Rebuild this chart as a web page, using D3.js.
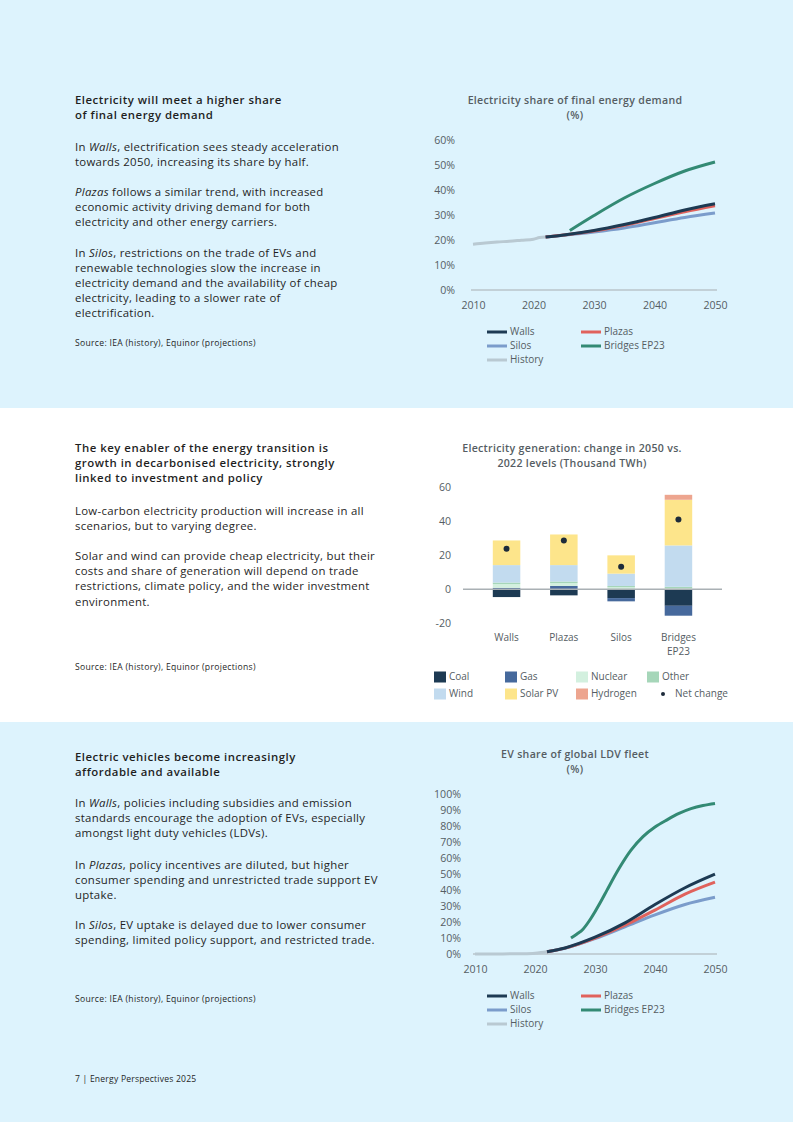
<!DOCTYPE html>
<html>
<head>
<meta charset="utf-8">
<script src="https://cdn.jsdelivr.net/npm/d3@7"></script>
<style>
  body { margin: 0; background: #fff; }
  svg { display: block; font-family: "Open Sans", Lato, sans-serif; }
</style>
</head>
<body>
<svg width="793" height="1122"></svg>
<script>
// ---- data: electricity share of final energy demand (%)
var elecHistYears = [2010, 2012, 2014, 2016, 2018, 2020, 2021, 2022];
var elecHist = [18.3, 18.8, 19.2, 19.5, 19.9, 20.3, 21.0, 21.2];
var elecYears = [2022, 2025, 2030, 2035, 2040, 2045, 2050];
var elecWalls = [21.2, 22.0, 23.8, 26.2, 29.0, 32.0, 34.5];
var elecPlazas = [21.2, 22.0, 23.6, 25.9, 28.6, 31.3, 33.7];
var elecSilos = [21.2, 21.9, 23.2, 24.8, 26.9, 29.0, 30.8];
var elecBridgesYears = [2026, 2030, 2035, 2040, 2045, 2050];
var elecBridges = [23.8, 29.8, 36.8, 42.6, 47.6, 51.2];
var elecTicks = [0, 10, 20, 30, 40, 50, 60];

// ---- data: electricity generation change 2050 vs 2022 (thousand TWh)
var genCats = ["Walls", "Plazas", "Silos", "Bridges EP23"];
var genKeys = ["Coal", "Gas", "Nuclear", "Other", "Wind", "Solar PV", "Hydrogen"];
var genCoal = [-4.6, -3.6, -5.2, -9.7];
var genGas = [0.8, 1.9, -1.9, -5.8];
var genNuclear = [2.2, 1.7, 1.2, 0.6];
var genOther = [0.9, 0.9, 0.7, 0.8];
var genWind = [10.2, 9.6, 7.2, 24.2];
var genSolar = [14.4, 17.9, 10.7, 26.7];
var genHydrogen = [0, 0, 0, 2.9];
var genNet = [23.6, 28.5, 13.2, 40.7];
var genTicks = [-20, 0, 20, 40, 60];

// ---- data: EV share of global LDV fleet (%)
var evHistYears = [2010, 2014, 2018, 2020, 2021, 2022];
var evHist = [0, 0.05, 0.2, 0.5, 0.9, 1.4];
var evYears = [2022, 2025, 2030, 2035, 2040, 2045, 2050];
var evWalls = [1.4, 3.8, 10.5, 19.5, 31.0, 41.5, 50.0];
var evPlazas = [1.4, 3.7, 10.0, 18.0, 27.5, 37.5, 45.0];
var evSilos = [1.4, 3.6, 9.6, 17.0, 24.5, 31.0, 35.5];
var evBridgesYears = [2026, 2027, 2028, 2029, 2030, 2031, 2032, 2034, 2036, 2038, 2040, 2042, 2044, 2046, 2048, 2050];
var evBridges = [10.0, 12.5, 15.5, 20.5, 26.5, 33.0, 40.0, 53.5, 65.0, 73.5, 79.5, 84.0, 88.0, 91.0, 93.0, 94.3];
var evTicks = [0, 10, 20, 30, 40, 50, 60, 70, 80, 90, 100];

var xTicks = [2010, 2020, 2030, 2040, 2050];

var colors = {
  Walls: "#1d3a53", Plazas: "#e0625c", Silos: "#7b9ccb", "Bridges EP23": "#338a74", History: "#b9c9d2",
  Coal: "#1d3a53", Gas: "#46699c", Nuclear: "#d3f0df", Other: "#a6d6b9", Wind: "#c2dbef",
  "Solar PV": "#fde58b", Hydrogen: "#eda58f"
};

var svg = d3.select("svg");
var bg = "#ddf3fd";
svg.append("rect").attr("x", 0).attr("y", 0).attr("width", 793).attr("height", 408).attr("fill", bg);
svg.append("rect").attr("x", 0).attr("y", 408).attr("width", 793).attr("height", 314).attr("fill", "#ffffff");
svg.append("rect").attr("x", 0).attr("y", 722).attr("width", 793).attr("height", 400).attr("fill", bg);

// ---- left column text
function textBlock(lines, y, opts) {
  lines.forEach(function (line, i) {
    var t = svg.append("text")
      .attr("x", 75)
      .attr("y", y + i * 15.2)
      .attr("dominant-baseline", "middle")
      .attr("font-size", opts.size)
      .attr("font-weight", opts.weight || "normal")
      .attr("letter-spacing", opts.spacing || 0)
      .attr("fill", "#1f1f1f");
    // segments starting with "_" are italic
    [].concat(line).forEach(function (seg) {
      var it = seg.charAt(0) === "_";
      t.append("tspan").attr("font-style", it ? "italic" : "normal").text(it ? seg.slice(1) : seg);
    });
  });
}
var body = { size: 11.4, spacing: 0.28 };
var head = { size: 11.4, weight: 600, spacing: 0.5 };
var src = { size: 8.6, spacing: 0.3 };

textBlock(["Electricity will meet a higher share", "of final energy demand"], 101, head);
textBlock([["In ", "_Walls", ", electrification sees steady acceleration"], "towards 2050, increasing its share by half."], 148, body);
textBlock([["_Plazas", " follows a similar trend, with increased"], "economic activity driving demand for both", "electricity and other energy carriers."], 193, body);
textBlock([["In ", "_Silos", ", restrictions on the trade of EVs and"], "renewable technologies slow the increase in", "electricity demand and the availability of cheap", "electricity, leading to a slower rate of", "electrification."], 253.5, body);
textBlock(["Source: IEA (history), Equinor (projections)"], 343.5, src);

textBlock(["The key enabler of the energy transition is", "growth in decarbonised electricity, strongly", "linked to investment and policy"], 448.5, head);
textBlock(["Low-carbon electricity production will increase in all", "scenarios, but to varying degree."], 511.5, body);
textBlock(["Solar and wind can provide cheap electricity, but their", "costs and share of generation will depend on trade", "restrictions, climate policy, and the wider investment", "environment."], 557, body);
textBlock(["Source: IEA (history), Equinor (projections)"], 668, src);

textBlock(["Electric vehicles become increasingly", "affordable and available"], 758, head);
textBlock([["In ", "_Walls", ", policies including subsidies and emission"], "standards encourage the adoption of EVs, especially", "amongst light duty vehicles (LDVs)."], 804, body);
textBlock([["In ", "_Plazas", ", policy incentives are diluted, but higher"], "consumer spending and unrestricted trade support EV", "uptake."], 866, body);
textBlock([["In ", "_Silos", ", EV uptake is delayed due to lower consumer"], "spending, limited policy support, and restricted trade."], 926, body);
textBlock(["Source: IEA (history), Equinor (projections)"], 1000, src);

textBlock(["7 | Energy Perspectives 2025"], 1080, { size: 8.6, spacing: 0.2 });

// ---- chart helpers
var axisColor = "#555d63";

function chartTitle(lines, cx, y) {
  lines.forEach(function (l, i) {
    svg.append("text")
      .attr("x", cx).attr("y", y + i * 15)
      .attr("text-anchor", "middle").attr("dominant-baseline", "middle")
      .attr("font-size", 10.6).attr("font-weight", 600).attr("letter-spacing", 0.3)
      .attr("fill", "#555d63")
      .text(l);
  });
}

function styleAxis(g) {
  g.select(".domain").remove();
  g.selectAll(".tick line").remove();
  g.selectAll(".tick text").attr("fill", axisColor).attr("font-size", 10.6)
    .attr("font-family", "'Open Sans', Lato, sans-serif");
}

function lineChart(cfg) {
  var x = d3.scaleLinear().domain([2010, 2050]).range(cfg.xRange);
  var y = d3.scaleLinear().domain([0, cfg.yMax]).range(cfg.yRange);

  svg.append("g")
    .attr("transform", "translate(" + cfg.yLabelX + ",0)")
    .call(d3.axisLeft(y).tickValues(cfg.yTicks).tickSize(0).tickPadding(0)
      .tickFormat(function (d) { return d + "%"; }))
    .call(styleAxis);

  svg.append("line")
    .attr("x1", cfg.xRange[0] - 2).attr("x2", cfg.xRange[1] + 2)
    .attr("y1", y(0)).attr("y2", y(0))
    .attr("stroke", "#a7adb1").attr("stroke-width", 1);

  svg.append("g")
    .attr("transform", "translate(0," + (y(0) + cfg.xLabelGap) + ")")
    .call(d3.axisBottom(x).tickValues(xTicks).tickSize(0).tickPadding(3).tickFormat(d3.format("d")))
    .call(styleAxis);

  var line = d3.line()
    .x(function (d) { return x(d[0]); })
    .y(function (d) { return y(d[1]); })
    .curve(d3.curveMonotoneX);

  cfg.series.forEach(function (s) {
    svg.append("path")
      .datum(d3.zip(s.years, s.values))
      .attr("fill", "none")
      .attr("stroke", colors[s.name])
      .attr("stroke-width", 3)
      .attr("d", line);
  });

  // legend
  var legend = [["Walls", 0, 0], ["Plazas", 94, 0], ["Silos", 0, 1], ["Bridges EP23", 94, 1], ["History", 0, 2]];
  legend.forEach(function (l) {
    var lx = cfg.legendX + l[1], ly = cfg.legendY + l[2] * 14;
    svg.append("line").attr("x1", lx).attr("x2", lx + 20).attr("y1", ly).attr("y2", ly)
      .attr("stroke", colors[l[0]]).attr("stroke-width", 3);
    svg.append("text").attr("x", lx + 23).attr("y", ly).attr("dominant-baseline", "middle")
      .attr("font-size", 10).attr("fill", axisColor).text(l[0]);
  });
}

// ---- chart 1
chartTitle(["Electricity share of final energy demand", "(%)"], 575, 101);
lineChart({
  xRange: [473, 715], yRange: [290, 140], yMax: 60, yTicks: elecTicks, yLabelX: 455,
  xLabelGap: 8, legendX: 487, legendY: 332,
  series: [
    { name: "History", years: elecHistYears, values: elecHist },
    { name: "Silos", years: elecYears, values: elecSilos },
    { name: "Plazas", years: elecYears, values: elecPlazas },
    { name: "Walls", years: elecYears, values: elecWalls },
    { name: "Bridges EP23", years: elecBridgesYears, values: elecBridges }
  ]
});

// ---- chart 3
chartTitle(["EV share of global LDV fleet", "(%)"], 575, 755);
lineChart({
  xRange: [475, 715], yRange: [954, 794.3], yMax: 100, yTicks: evTicks, yLabelX: 461,
  xLabelGap: 8, legendX: 487, legendY: 996,
  series: [
    { name: "History", years: evHistYears, values: evHist },
    { name: "Silos", years: evYears, values: evSilos },
    { name: "Plazas", years: evYears, values: evPlazas },
    { name: "Walls", years: evYears, values: evWalls },
    { name: "Bridges EP23", years: evBridgesYears, values: evBridges }
  ]
});

// ---- chart 2: stacked diverging bars
chartTitle(["Electricity generation: change in 2050 vs.", "2022 levels (Thousand TWh)"], 572, 449);

var genSeries = { Coal: genCoal, Gas: genGas, Nuclear: genNuclear, Other: genOther,
  Wind: genWind, "Solar PV": genSolar, Hydrogen: genHydrogen };
var genRows = genCats.map(function (c, i) {
  var row = { cat: c };
  genKeys.forEach(function (k) { row[k] = genSeries[k][i]; });
  return row;
});

var xBand = d3.scaleBand().domain(genCats).range([463, 722]).padding(0.52);
var yGen = d3.scaleLinear().domain([-20, 60]).range([623.4, 486.6]);

svg.append("g")
  .attr("transform", "translate(451,0)")
  .call(d3.axisLeft(yGen).tickValues(genTicks).tickSize(0).tickPadding(0)
    .tickFormat(function (d) { return String(d); }))
  .call(styleAxis);

var stacked = d3.stack().keys(genKeys).offset(d3.stackOffsetDiverging)(genRows);
svg.append("g").selectAll("g")
  .data(stacked)
  .enter().append("g")
  .attr("fill", function (d) { return colors[d.key]; })
  .selectAll("rect")
  .data(function (d) { return d; })
  .enter().append("rect")
  .attr("x", function (d) { return xBand(d.data.cat); })
  .attr("width", xBand.bandwidth())
  .attr("y", function (d) { return yGen(Math.max(d[0], d[1])); })
  .attr("height", function (d) { return Math.abs(yGen(d[0]) - yGen(d[1])); });

svg.append("line")
  .attr("x1", 463).attr("x2", 722).attr("y1", yGen(0)).attr("y2", yGen(0))
  .attr("stroke", "#a9b0b4").attr("stroke-width", 1.5);

svg.append("g").selectAll("circle")
  .data(genNet)
  .enter().append("circle")
  .attr("cx", function (d, i) { return xBand(genCats[i]) + xBand.bandwidth() / 2; })
  .attr("cy", function (d) { return yGen(d); })
  .attr("r", 3)
  .attr("fill", "#1d2b3a");

genCats.forEach(function (c) {
  var words = c === "Bridges EP23" ? ["Bridges", "EP23"] : [c];
  words.forEach(function (w, j) {
    svg.append("text")
      .attr("x", xBand(c) + xBand.bandwidth() / 2).attr("y", 638 + j * 14)
      .attr("text-anchor", "middle").attr("dominant-baseline", "middle")
      .attr("font-size", 10).attr("fill", axisColor).text(w);
  });
});

// legend chart 2
var genLegend = ["Coal", "Gas", "Nuclear", "Other", "Wind", "Solar PV", "Hydrogen", "Net change"];
genLegend.forEach(function (k, i) {
  var lx = 434 + (i % 4) * 71, ly = 677 + Math.floor(i / 4) * 17;
  if (k === "Net change") {
    svg.append("circle").attr("cx", lx + 16).attr("cy", ly).attr("r", 2).attr("fill", "#1d2b3a");
  } else {
    svg.append("rect").attr("x", lx).attr("y", ly - 5.5).attr("width", 12).attr("height", 11)
      .attr("fill", colors[k]);
  }
  svg.append("text").attr("x", k === "Net change" ? lx + 28 : lx + 15)
    .attr("y", ly).attr("dominant-baseline", "middle")
    .attr("font-size", 10).attr("fill", axisColor).text(k);
});
</script>
</body>
</html>
